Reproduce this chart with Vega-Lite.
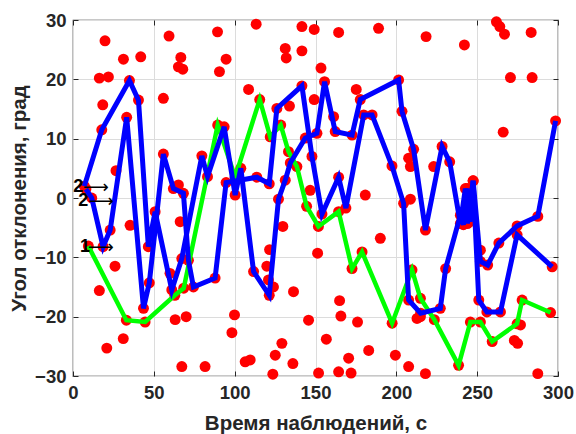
{
"$schema": "https://vega.github.io/schema/vega-lite/v6.json",
"width": 485, "height": 356,
"autosize": {"type": "none"},
"padding": {"left": 73, "top": 20, "right": 18, "bottom": 58},
"background": "white",
"config": {
 "view": {"stroke": "#262626", "strokeWidth": 1.2},
 "font": "Liberation Sans",
 "axis": {"labelFont": "Liberation Sans", "labelFontWeight": "bold", "labelFontSize": 18.5, "labelColor": "#262626", "labelFlush": false,
  "titleFont": "Liberation Sans", "titleFontWeight": "bold", "titleFontSize": 20.5, "titleColor": "#262626",
  "domain": false, "tickColor": "#262626", "tickWidth": 1, "gridColor": "#dcdcdc", "gridWidth": 1}
},
"datasets": {
 "pts": [
  {"s":"G","o":1,"x":9.5,"y":-8.1},{"s":"G","o":2,"x":33,"y":-20.6},{"s":"G","o":3,"x":44.6,"y":-20.9},{"s":"G","o":4,"x":63,"y":-16.4},{"s":"G","o":5,"x":68.5,"y":-15.2},{"s":"G","o":6,"x":89.5,"y":12.3},{"s":"G","o":7,"x":100.3,"y":3.5},{"s":"G","o":8,"x":115.5,"y":16.6},{"s":"G","o":9,"x":122,"y":10.3},{"s":"G","o":10,"x":128.5,"y":12.3},{"s":"G","o":11,"x":133.3,"y":7.8},{"s":"G","o":12,"x":138.5,"y":5.3},{"s":"G","o":13,"x":144.5,"y":-1.4},{"s":"G","o":14,"x":151.8,"y":-4.8},{"s":"G","o":15,"x":164.3,"y":-2.3},{"s":"G","o":16,"x":172.6,"y":-11.9},{"s":"G","o":17,"x":178.8,"y":-9.1},{"s":"G","o":18,"x":197.4,"y":-21.1},{"s":"G","o":19,"x":209.7,"y":-12.1},{"s":"G","o":20,"x":214.9,"y":-16.9},{"s":"G","o":21,"x":223.5,"y":-20.5},{"s":"G","o":22,"x":238.5,"y":-28.2},{"s":"G","o":23,"x":245.8,"y":-20.9},{"s":"G","o":24,"x":252,"y":-20.9},{"s":"G","o":25,"x":259.3,"y":-24.2},{"s":"G","o":26,"x":274.7,"y":-21.2},{"s":"G","o":27,"x":277.8,"y":-17.2},{"s":"G","o":28,"x":295.4,"y":-19.3},
  {"s":"A","o":1,"x":7,"y":2},{"s":"A","o":2,"x":17.8,"y":11.5},{"s":"A","o":3,"x":34.9,"y":19.8},{"s":"A","o":4,"x":40.5,"y":16.5},{"s":"A","o":5,"x":46.6,"y":-8.2},{"s":"A","o":6,"x":50.8,"y":-2.3},{"s":"A","o":7,"x":61.1,"y":-15.5},{"s":"A","o":8,"x":67.3,"y":-10.2},{"s":"A","o":9,"x":79.7,"y":7.1},{"s":"A","o":10,"x":83.2,"y":3.6},{"s":"A","o":11,"x":93.5,"y":12},{"s":"A","o":12,"x":100.3,"y":0.5},{"s":"A","o":13,"x":103.8,"y":5},{"s":"A","o":14,"x":111.7,"y":-12.4},{"s":"A","o":15,"x":121.4,"y":-16.4},{"s":"A","o":16,"x":127.1,"y":-0.2},{"s":"A","o":17,"x":131.3,"y":3},{"s":"A","o":18,"x":134.4,"y":5.9},{"s":"A","o":19,"x":143.7,"y":10.1},{"s":"A","o":20,"x":150.9,"y":10.9},{"s":"A","o":21,"x":155.6,"y":19.6},{"s":"A","o":22,"x":162.2,"y":11.2},{"s":"A","o":23,"x":172.6,"y":10.6},{"s":"A","o":24,"x":177.7,"y":16.6},{"s":"A","o":25,"x":201.4,"y":19.9},{"s":"A","o":26,"x":203.5,"y":14.6},{"s":"A","o":27,"x":210.7,"y":8.2},{"s":"A","o":28,"x":218,"y":-5.4},{"s":"A","o":29,"x":228.3,"y":8.7},{"s":"A","o":30,"x":233,"y":6.1},{"s":"A","o":31,"x":239.6,"y":-4.3},{"s":"A","o":32,"x":242.7,"y":1.6},{"s":"A","o":33,"x":244,"y":-4.3},{"s":"A","o":34,"x":247.5,"y":2.9},{"s":"A","o":35,"x":252,"y":-10.7},{"s":"A","o":36,"x":256.5,"y":-11.3},{"s":"A","o":37,"x":263.4,"y":-7.6},{"s":"A","o":38,"x":274.7,"y":-4.7},{"s":"A","o":39,"x":287.5,"y":-3.1},{"s":"A","o":40,"x":298.5,"y":13},
  {"s":"B","o":1,"x":8,"y":1.5},{"s":"B","o":2,"x":11.6,"y":0},{"s":"B","o":3,"x":18.6,"y":-8.2},{"s":"B","o":4,"x":23,"y":-5.4},{"s":"B","o":5,"x":33.2,"y":13.6},{"s":"B","o":6,"x":43.6,"y":-18.6},{"s":"B","o":7,"x":47.2,"y":-14.3},{"s":"B","o":8,"x":55.9,"y":7.4},{"s":"B","o":9,"x":62.1,"y":1.6},{"s":"B","o":10,"x":68.3,"y":0.8},{"s":"B","o":11,"x":71.4,"y":-10.5},{"s":"B","o":12,"x":74.5,"y":-15},{"s":"B","o":13,"x":87.9,"y":-13.5},{"s":"B","o":14,"x":94.7,"y":2.6},{"s":"B","o":15,"x":113.7,"y":3.5},{"s":"B","o":16,"x":121.4,"y":2.4},{"s":"B","o":17,"x":126.1,"y":15.1},{"s":"B","o":18,"x":141.6,"y":18.9},{"s":"B","o":19,"x":147.8,"y":7},{"s":"B","o":20,"x":154,"y":-2.7},{"s":"B","o":21,"x":164.3,"y":3.5},{"s":"B","o":22,"x":168.8,"y":-1.7},{"s":"B","o":23,"x":179.8,"y":14},{"s":"B","o":24,"x":185,"y":14},{"s":"B","o":25,"x":197.3,"y":5.4},{"s":"B","o":26,"x":204.5,"y":-0.9},{"s":"B","o":27,"x":207.6,"y":-17.2},{"s":"B","o":28,"x":215,"y":-19.4},{"s":"B","o":29,"x":227.2,"y":-18.6},{"s":"B","o":30,"x":230.5,"y":-11.9},{"s":"B","o":31,"x":239.6,"y":-2.9},{"s":"B","o":32,"x":241.5,"y":-4.5},{"s":"B","o":33,"x":243.8,"y":1.6},{"s":"B","o":34,"x":245.5,"y":-4},{"s":"B","o":35,"x":247.5,"y":2.9},{"s":"B","o":36,"x":251,"y":-17.2},{"s":"B","o":37,"x":256,"y":-19.2},{"s":"B","o":38,"x":264.4,"y":-19.2},{"s":"B","o":39,"x":274.7,"y":-6.2},{"s":"B","o":40,"x":296.4,"y":-11.6},
  {"s":"D","x":19.8,"y":26.5},{"s":"D","x":16.3,"y":20.2},{"s":"D","x":21.9,"y":20.4},{"s":"D","x":31.2,"y":23.4},{"s":"D","x":41.9,"y":23.8},{"s":"D","x":59.4,"y":27.3},{"s":"D","x":66.7,"y":23.7},{"s":"D","x":65.2,"y":22.1},{"s":"D","x":67.9,"y":21.7},{"s":"D","x":18.4,"y":15.7},{"s":"D","x":55.9,"y":16.8},{"s":"D","x":26.6,"y":4.6},{"s":"D","x":65.2,"y":2.2},{"s":"D","x":35.3,"y":-4.6},{"s":"D","x":26,"y":-11.5},{"s":"D","x":16.3,"y":-15.6},{"s":"D","x":31.1,"y":-23.7},{"s":"D","x":20.9,"y":-25.3},{"s":"D","x":67.3,"y":-28.4},{"s":"D","x":63.2,"y":-20.5},{"s":"D","x":70,"y":-20},{"s":"D","x":66.3,"y":-4},{"s":"D","x":60,"y":-12.7},{"s":"D","x":89.4,"y":28},{"s":"D","x":94.7,"y":23.4},{"s":"D","x":90.6,"y":21.3},{"s":"D","x":113.3,"y":29.3},{"s":"D","x":131.3,"y":25.2},{"s":"D","x":131.9,"y":23.6},{"s":"D","x":141.6,"y":24.8},{"s":"D","x":141.6,"y":28.9},{"s":"D","x":108.6,"y":18.3},{"s":"D","x":133.9,"y":15.5},{"s":"D","x":81.7,"y":-28.4},{"s":"D","x":98.3,"y":-22.7},{"s":"D","x":99.9,"y":-19.7},{"s":"D","x":106.5,"y":-27.6},{"s":"D","x":109.6,"y":-27.3},{"s":"D","x":129.2,"y":-24.5},{"s":"D","x":125.1,"y":-26.5},{"s":"D","x":136,"y":-27.9},{"s":"D","x":123.6,"y":-29.7},{"s":"D","x":136.4,"y":-15.8},{"s":"D","x":145.7,"y":-20.6},{"s":"D","x":129.8,"y":-4.8},{"s":"D","x":121.6,"y":-8.7},{"s":"D","x":119.9,"y":-11.5},{"s":"D","x":120.9,"y":-13.8},{"s":"D","x":124,"y":-15},{"s":"D","x":149.2,"y":28.4},{"s":"D","x":164.3,"y":27.9},{"s":"D","x":189,"y":28.6},{"s":"D","x":218.4,"y":27.2},{"s":"D","x":153.4,"y":21.9},{"s":"D","x":149.2,"y":16.6},{"s":"D","x":175.2,"y":18.3},{"s":"D","x":161.2,"y":13.7},{"s":"D","x":207.6,"y":6.7},{"s":"D","x":208.7,"y":5.3},{"s":"D","x":180.8,"y":0.5},{"s":"D","x":146.7,"y":1.3},{"s":"D","x":208.7,"y":-0.2},{"s":"D","x":190.1,"y":-6.8},{"s":"D","x":151.3,"y":-9.3},{"s":"D","x":164.9,"y":-17.3},{"s":"D","x":165.7,"y":-19.9},{"s":"D","x":176,"y":-20.9},{"s":"D","x":156.7,"y":-23.8},{"s":"D","x":182.9,"y":-25.7},{"s":"D","x":170.5,"y":-27},{"s":"D","x":199.4,"y":-26.5},{"s":"D","x":207.6,"y":-28.4},{"s":"D","x":151.9,"y":-29.5},{"s":"D","x":164.3,"y":-29.3},{"s":"D","x":172,"y":-29.5},{"s":"D","x":218,"y":-29.6},{"s":"D","x":212.8,"y":-20.3},{"s":"D","x":242.1,"y":25.8},{"s":"D","x":261.9,"y":29.7},{"s":"D","x":264,"y":28.9},{"s":"D","x":266.9,"y":27.6},{"s":"D","x":283.4,"y":27.9},{"s":"D","x":270.6,"y":20.3},{"s":"D","x":284,"y":20.3},{"s":"D","x":266.1,"y":11.1},{"s":"D","x":223.1,"y":5.3},{"s":"D","x":287.5,"y":-29.6},{"s":"D","x":273,"y":-24},{"s":"D","x":275,"y":-24.5},{"s":"D","x":276.8,"y":-21.4},{"s":"D","x":252,"y":-8.8},{"s":"D","x":214.9,"y":-20}
 ],
 "notes": [
  {"t":"2","x":0.2,"ax":6.2,"y":1.9},
  {"t":"2","x":3.3,"ax":9.3,"y":-0.45},
  {"t":"1","x":4.3,"ax":9.3,"y":-8.3}
 ]
},
"layer": [
 {
  "data": {"name": "pts"},
  "mark": {"type": "point", "shape": "circle", "filled": true, "size": 120, "color": "#ff0000", "opacity": 1, "strokeWidth": 0},
  "encoding": {
   "x": {"field": "x", "type": "quantitative", "scale": {"domain": [0, 300], "nice": false, "zero": false},
     "axis": {"orient": "bottom", "values": [0,50,100,150,200,250,300], "grid": true, "tickSize": -5, "labelPadding": 12, "title": "Время наблюдений, с", "titlePadding": 12}},
   "y": {"field": "y", "type": "quantitative", "scale": {"domain": [-30, 30], "nice": false, "zero": false},
     "axis": {"orient": "left", "values": [-30,-20,-10,0,10,20,30], "grid": true, "tickSize": -5, "labelPadding": 12, "title": "Угол отклонения, град", "titlePadding": 5}}
  }
 },
 {
  "data": {"name": "pts"},
  "transform": [{"filter": "datum.s === 'G'"}],
  "mark": {"type": "line", "color": "#00ff00", "strokeWidth": 4.5},
  "encoding": {
   "x": {"field": "x", "type": "quantitative", "axis": {"orient": "top", "values": [0,50,100,150,200,250,300], "grid": false, "labels": false, "tickSize": -5, "title": null}},
   "y": {"field": "y", "type": "quantitative", "axis": {"orient": "right", "values": [-30,-20,-10,0,10,20,30], "grid": false, "labels": false, "tickSize": -5, "title": null}},
   "order": {"field": "o", "type": "quantitative"}
  }
 },
 {
  "data": {"name": "pts"},
  "transform": [{"filter": "datum.s === 'A' || datum.s === 'B'"}],
  "mark": {"type": "line", "color": "#0000ff", "strokeWidth": 5},
  "encoding": {
   "x": {"field": "x", "type": "quantitative", "axis": null},
   "y": {"field": "y", "type": "quantitative", "axis": null},
   "detail": {"field": "s"},
   "order": {"field": "o", "type": "quantitative"}
  }
 },
 {
  "data": {"name": "notes"},
  "mark": {"type": "text", "align": "left", "baseline": "middle", "font": "Liberation Sans", "fontWeight": "bold", "fontSize": 18, "color": "#000000"},
  "encoding": {
   "x": {"field": "x", "type": "quantitative", "axis": null},
   "y": {"field": "y", "type": "quantitative", "axis": null},
   "text": {"field": "t"}
  }
 },
 {
  "data": {"name": "notes"},
  "mark": {"type": "text", "align": "left", "baseline": "middle", "font": "DejaVu Sans", "fontSize": 18, "color": "#000000", "dy": 1},
  "encoding": {
   "x": {"field": "ax", "type": "quantitative", "axis": null},
   "y": {"field": "y", "type": "quantitative", "axis": null},
   "text": {"value": "⟶"}
  }
 }
],
"resolve": {"axis": {"x": "independent", "y": "independent"}}
}
